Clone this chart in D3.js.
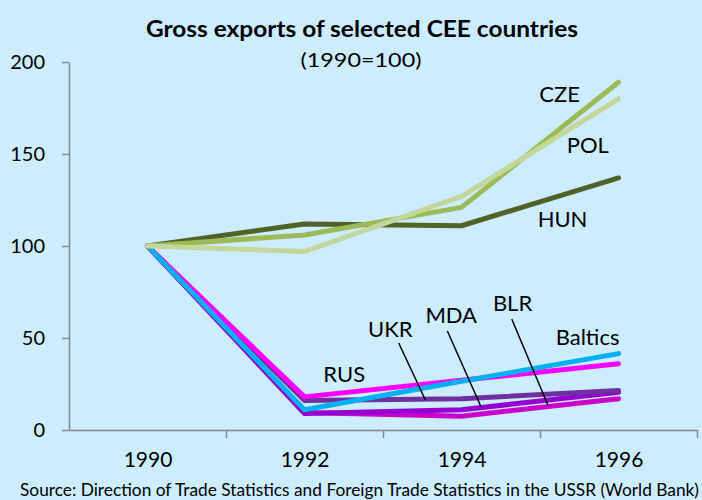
<!DOCTYPE html>
<html><head><meta charset="utf-8">
<script src="https://cdn.jsdelivr.net/npm/d3@7"></script>
<style>
html,body{margin:0;padding:0;background:#CCECFF;}
svg{display:block;font-family:Lato,"Open Sans",sans-serif;}
</style></head>
<body>
<svg id="chart" width="702" height="500"></svg>
<script>
const years = [1990, 1992, 1994, 1996];
const yearLabels = ["1990", "1992", "1994", "1996"];
const yTicks = [0, 50, 100, 150, 200];

const CZE = [100, 106, 121, 189];
const POL = [100, 97, 127, 180];
const HUN = [100, 112, 111, 137];
const RUS = [100, 18, 27, 36];
const Baltics = [100, 11, 26.5, 41.5];
const UKR = [100, 16, 17, 21.5];
const MDA = [100, 9, 11, 20.5];
const BLR = [100, 9.5, 7.5, 17];

const seriesNames = ["BLR", "MDA", "UKR", "RUS", "Baltics", "HUN", "CZE", "POL"];
const seriesValues = [BLR, MDA, UKR, RUS, Baltics, HUN, CZE, POL];
const seriesColors = ["#CC00CC", "#9400D3", "#7030A0", "#FF00FF", "#00B0F0", "#4F6228", "#9BBB59", "#C3D69B"];

// label anchors in data space (year, value)
const labelNames = ["CZE", "POL", "HUN", "RUS", "UKR", "MDA", "BLR", "Baltics"];
const labelYears = [1994.99, 1995.34, 1994.97, 1992.24, 1992.81, 1993.54, 1994.40, 1995.20];
const labelValues = [178.3, 150.5, 110.3, 26.1, 50.5, 58.2, 64.7, 46.2];

// leader lines in data space
const leaderNames = ["UKR", "MDA", "BLR"];
const leaderFromYear = [1993.20, 1993.82, 1994.64];
const leaderFromValue = [47.3, 53.8, 60.3];
const leaderToYear = [1993.54, 1994.25, 1995.10];
const leaderToValue = [16.3, 12.5, 13.6];

const svg = d3.select("#chart");
const x = d3.scaleLinear().domain([1989, 1997]).range([69, 697]);
const y = d3.scaleLinear().domain([0, 200]).range([430, 62]);
const axisColor = "#868686";

// title
svg.append("text").attr("x", 362).attr("y", 37).attr("text-anchor", "middle")
  .attr("font-weight", "bold").attr("font-size", 22).attr("fill", "#000")
  .attr("textLength", 432).attr("lengthAdjust", "spacingAndGlyphs")
  .text("Gross exports of selected CEE countries");
svg.append("text").attr("x", 361).attr("y", 67).attr("text-anchor", "middle")
  .attr("font-size", 20).attr("fill", "#000")
  .attr("textLength", 121).attr("lengthAdjust", "spacingAndGlyphs")
  .text("(1990=100)");

// y axis
const yAxis = svg.append("g").attr("transform", `translate(${x(1989)},0)`)
  .call(d3.axisLeft(y).tickValues(yTicks).tickSize(7).tickPadding(17).tickSizeOuter(0));
yAxis.select(".domain").attr("stroke", axisColor).attr("stroke-width", 1.5);
yAxis.selectAll(".tick line").attr("stroke", axisColor).attr("stroke-width", 1.5);
yAxis.selectAll(".tick text").attr("font-size", 20).attr("fill", "#000")
  .attr("font-family", "Lato,'Open Sans',sans-serif");

// x axis: boundary ticks
const xAxisTicks = svg.append("g").attr("transform", `translate(0,${y(0)})`)
  .call(d3.axisBottom(x).tickValues([1991, 1993, 1995, 1997]).tickSize(8).tickFormat("").tickSizeOuter(0));
xAxisTicks.select(".domain").attr("stroke", axisColor).attr("stroke-width", 1.5);
xAxisTicks.selectAll(".tick line").attr("stroke", axisColor).attr("stroke-width", 1.5);
// x labels
const xAxisLabels = svg.append("g").attr("transform", `translate(0,${y(0)})`)
  .call(d3.axisBottom(x).tickValues(years).tickSize(0).tickPadding(22)
    .tickFormat((d, i) => yearLabels[i]));
xAxisLabels.select(".domain").remove();
xAxisLabels.selectAll(".tick text").attr("font-size", 21).attr("fill", "#000")
  .attr("font-family", "Lato,'Open Sans',sans-serif");

// lines
const line = d3.line().x((d, i) => x(years[i])).y(d => y(d));
seriesValues.forEach((vals, k) => {
  svg.append("path").datum(vals).attr("d", line)
    .attr("fill", "none").attr("stroke", seriesColors[k]).attr("stroke-width", 5)
    .attr("stroke-linecap", "round").attr("stroke-linejoin", "round");
});

// leader lines
leaderNames.forEach((n, i) => {
  svg.append("line")
    .attr("x1", x(leaderFromYear[i])).attr("y1", y(leaderFromValue[i]))
    .attr("x2", x(leaderToYear[i])).attr("y2", y(leaderToValue[i]))
    .attr("stroke", "#000").attr("stroke-width", 1.5);
});

// labels
labelNames.forEach((n, i) => {
  svg.append("text").attr("x", x(labelYears[i])).attr("y", y(labelValues[i]))
    .attr("font-size", 22).attr("fill", "#000").text(n);
});

// source
svg.append("text").attr("x", 20).attr("y", 496).attr("font-size", 17).attr("fill", "#000")
  .attr("textLength", 679).attr("lengthAdjust", "spacingAndGlyphs")
  .text("Source: Direction of Trade Statistics and Foreign Trade Statistics in the USSR (World Bank)");
</script>
</body></html>
